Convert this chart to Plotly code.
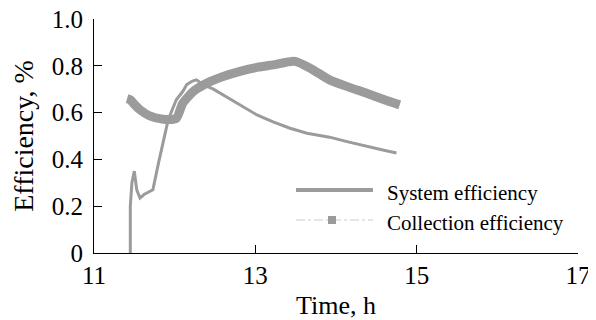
import plotly.graph_objects as go

# Data
sys_t = [11.45, 11.45, 11.47, 11.50, 11.53, 11.57, 11.62, 11.67, 11.73, 11.80, 11.86, 11.92,
         12.02, 12.10, 12.15, 12.22, 12.27, 12.35, 12.48, 12.60, 12.81, 13.02, 13.22, 13.43,
         13.64, 13.92, 14.15, 14.38, 14.58, 14.75]
sys_v = [0.0, 0.20, 0.30, 0.35, 0.27, 0.235, 0.25, 0.26, 0.27, 0.385, 0.48, 0.57,
         0.655, 0.69, 0.72, 0.735, 0.74, 0.72, 0.70, 0.676, 0.633, 0.59, 0.56, 0.533,
         0.512, 0.495, 0.475, 0.455, 0.44, 0.427]

coll_t = [11.41, 11.45, 11.50, 11.57, 11.69, 11.86, 12.02, 12.10, 12.23, 12.40, 12.60,
          12.81, 13.02, 13.22, 13.49, 13.68, 13.92, 14.15, 14.38, 14.60, 14.79]
coll_v = [0.66, 0.655, 0.635, 0.612, 0.586, 0.572, 0.576, 0.64, 0.69, 0.726, 0.754,
          0.776, 0.793, 0.804, 0.819, 0.79, 0.74, 0.71, 0.683, 0.655, 0.633]

x_ticks = [11, 13, 15, 17]
y_ticks = [0, 0.2, 0.4, 0.6, 0.8, 1.0]
y_labels = ["0", "0.2", "0.4", "0.6", "0.8", "1.0"]
series_names = ["System efficiency", "Collection efficiency"]

GRAY = "#9b9b9b"
FONT = "Liberation Serif, Times New Roman, serif"

fig = go.Figure()
fig.add_trace(go.Scatter(x=coll_t, y=coll_v, mode="lines",
                         line=dict(color=GRAY, width=9, shape="spline", smoothing=0.6),
                         showlegend=False))
fig.add_trace(go.Scatter(x=sys_t, y=sys_v, mode="lines",
                         line=dict(color=GRAY, width=3), showlegend=False))

# Manual legend (paper coordinates; plot area spans page px 94..578, 19..253)
W, H = 484.0, 234.0
def px(xp):
    return (xp - 94) / W
def py(yp):
    return (253 - yp) / H

fig.add_shape(type="line", xref="paper", yref="paper", x0=px(296), x1=px(373),
              y0=py(190), y1=py(190), line=dict(color=GRAY, width=4))
fig.add_shape(type="line", xref="paper", yref="paper", x0=px(296), x1=px(373),
              y0=py(220), y1=py(220), line=dict(color="#cccccc", width=1, dash="dashdot"))
fig.add_shape(type="rect", xref="paper", yref="paper", x0=px(328), x1=px(336),
              y0=py(224), y1=py(216), line=dict(width=0), fillcolor=GRAY)
fig.add_annotation(x=px(385), y=py(193), xref="paper", yref="paper", text=series_names[0],
                   showarrow=False, xanchor="left", yanchor="middle",
                   font=dict(family=FONT, size=21, color="black"))
fig.add_annotation(x=px(385), y=py(223), xref="paper", yref="paper", text=series_names[1],
                   showarrow=False, xanchor="left", yanchor="middle",
                   font=dict(family=FONT, size=21, color="black"))

# The page body has an 8px default margin, so the figure is 8px smaller
# and left/top margins are reduced to place the plot area at page px 94..578 / 19..253.
fig.update_layout(
    width=588, height=312,
    margin=dict(l=86, r=18, t=11, b=67),
    plot_bgcolor="white", paper_bgcolor="white",
    font=dict(family=FONT, size=25, color="black"),
    xaxis=dict(range=[11, 17], tickvals=x_ticks, ticks="inside", ticklen=8,
               tickcolor="black", showline=True, linecolor="black", linewidth=1,
               showgrid=False, zeroline=False, automargin=False,
               ticklabeloverflow="allow",
               title=dict(text="Time, h", font=dict(size=26), standoff=14),
               tickfont=dict(size=25)),
    yaxis=dict(range=[0, 1.0], tickvals=y_ticks, ticktext=y_labels, ticks="inside",
               ticklen=8, tickcolor="black", showline=True, linecolor="black",
               linewidth=1, showgrid=False, zeroline=False, automargin=False,
               ticklabelstandoff=5, ticklabeloverflow="allow",
               title=dict(text="Efficiency, %", font=dict(size=28), standoff=12),
               tickfont=dict(size=25)),
)

fig.write_html("out.html")
